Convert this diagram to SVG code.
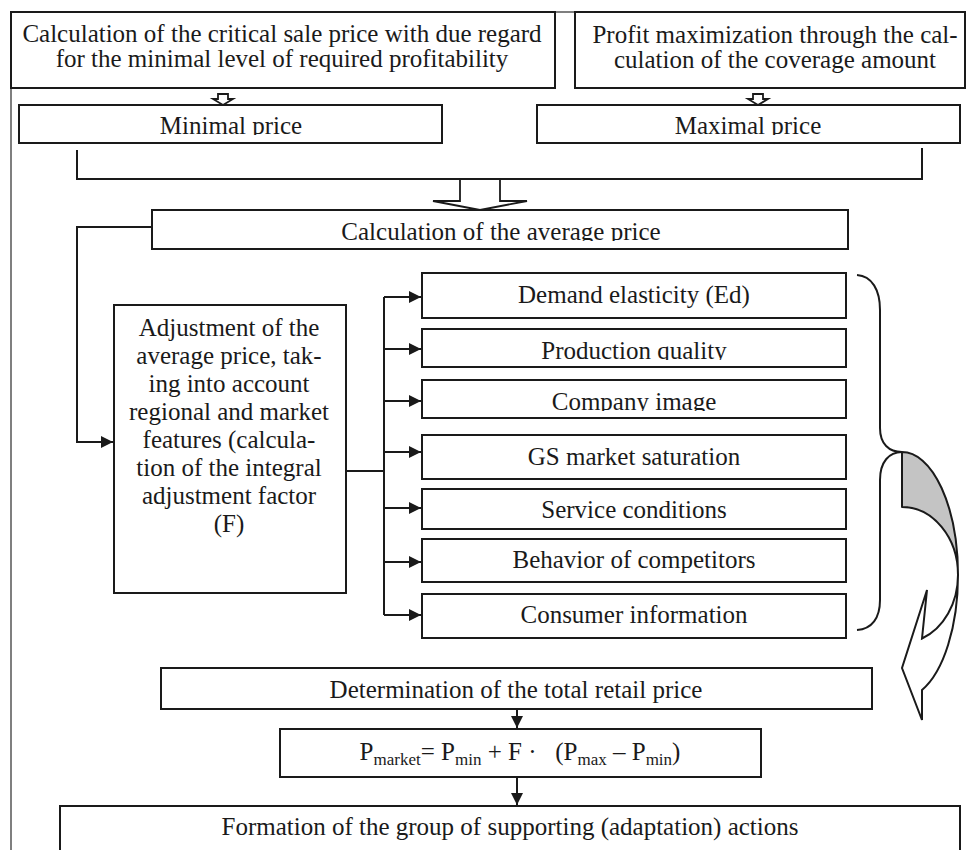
<svg xmlns="http://www.w3.org/2000/svg" width="966" height="850" viewBox="0 0 966 850">
  <style>
    .box { fill: #ffffff; stroke: #1a1a1a; stroke-width: 2; }
    .t { font-family: "Liberation Serif", "Times New Roman", serif; font-size: 25px; fill: #1a1a1a; text-anchor: middle; }
    .sub { font-size: 17px; }
    .ln { fill: none; stroke: #1a1a1a; stroke-width: 2; }
    .hollow { fill: #ffffff; stroke: #1a1a1a; stroke-width: 1.8; stroke-linejoin: miter; }
    .frame { fill: none; stroke: #555555; stroke-width: 1.5; }
  </style>
  <defs>
    <marker id="ah" viewBox="0 0 12 12" refX="12" refY="6" markerWidth="12" markerHeight="12" markerUnits="userSpaceOnUse" orient="auto">
      <path d="M0,0 L12,6 L0,12 z" fill="#1a1a1a"/>
    </marker>
    <!-- label clips: descenders are cut at the baseline -->
    <clipPath id="cMin" clipPathUnits="userSpaceOnUse"><rect x="19" y="105" width="423" height="30"/></clipPath>
    <clipPath id="cMax" clipPathUnits="userSpaceOnUse"><rect x="537" y="105" width="423" height="30"/></clipPath>
    <clipPath id="cAvg" clipPathUnits="userSpaceOnUse"><rect x="152" y="210" width="696" height="31"/></clipPath>
    <clipPath id="cQual" clipPathUnits="userSpaceOnUse"><rect x="422" y="329" width="424" height="31"/></clipPath>
    <clipPath id="cImg" clipPathUnits="userSpaceOnUse"><rect x="422" y="380" width="424" height="31"/></clipPath>
  </defs>

  <rect width="966" height="850" fill="#ffffff"/>

  <!-- outer frame -->
  <path class="frame" d="M11,850 V12 H966"/>

  <!-- connectors -->
  <g id="connectors">
    <!-- bracket collecting min / max price -->
    <path class="ln" d="M77,150 V179 H922 V148"/>
    <!-- small hollow arrows -->
    <polygon class="hollow" points="218,94 228,94 228,99 233,99 223,105 213,99 218,99"/>
    <polygon class="hollow" points="753,94 763,94 763,99 768,99 758,105 748,99 753,99"/>
    <!-- big hollow arrow -->
    <polygon class="hollow" points="460,179 500,179 500,201 527,201 480,210 433,201 460,201"/>
    <!-- average price to adjustment -->
    <path class="ln" d="M152,227 H77 V442 H113" marker-end="url(#ah)"/>
    <!-- adjustment to factors -->
    <path class="ln" d="M346,471 H384"/>
    <path class="ln" d="M384,297 V615"/>
    <path class="ln" d="M384,297 H421" marker-end="url(#ah)"/>
    <path class="ln" d="M384,349 H421" marker-end="url(#ah)"/>
    <path class="ln" d="M384,401 H421" marker-end="url(#ah)"/>
    <path class="ln" d="M384,452 H421" marker-end="url(#ah)"/>
    <path class="ln" d="M384,508 H421" marker-end="url(#ah)"/>
    <path class="ln" d="M384,562 H421" marker-end="url(#ah)"/>
    <path class="ln" d="M384,615 H421" marker-end="url(#ah)"/>
    <!-- bottom chain -->
    <path class="ln" d="M517,709 V728" marker-end="url(#ah)"/>
    <path class="ln" d="M517,777 V805" marker-end="url(#ah)"/>
    <!-- brace around the factors -->
    <path class="ln" d="M857,275 C872,276 880,290 880,310 L880,428 C880,444 889,452 902,452"/>
    <path class="ln" d="M902,452 C889,452 880,462 880,480 L880,600 C880,618 872,629 857,630"/>
    <!-- curved block arrow: shaded back and white body with head -->
    <path d="M902,452 A56,123 0 0 1 958,575 A56,68 0 0 0 902,507 Z" fill="#c4c4c4" stroke="#1a1a1a" stroke-width="2" stroke-linejoin="round"/>
    <path d="M958,575 A56,123 0 0 1 922,690 L922,720 L902,668 L927,590 L922,638.5 A56,68 0 0 0 958,575 Z" fill="#ffffff" stroke="#1a1a1a" stroke-width="2" stroke-linejoin="miter"/>
  </g>

  <g id="critical-price">
    <rect class="box" x="11" y="12" width="544" height="76"/>
    <text class="t" x="282" y="42">Calculation of the critical sale price with due regard</text>
    <text class="t" x="282" y="67">for the minimal level of required profitability</text>
  </g>

  <g id="profit-max">
    <rect class="box" x="575" y="12" width="390" height="76"/>
    <text class="t" x="775" y="43">Profit maximization through the cal-</text>
    <text class="t" x="775" y="68">culation of the coverage amount</text>
  </g>

  <g id="minimal-price">
    <rect class="box" x="19" y="105" width="423" height="38"/>
    <text class="t" x="231" y="134" clip-path="url(#cMin)">Minimal price</text>
  </g>

  <g id="maximal-price">
    <rect class="box" x="537" y="105" width="423" height="38"/>
    <text class="t" x="748" y="134" clip-path="url(#cMax)">Maximal price</text>
  </g>

  <g id="average-price">
    <rect class="box" x="152" y="210" width="696" height="39"/>
    <text class="t" x="501" y="240" clip-path="url(#cAvg)">Calculation of the average price</text>
  </g>

  <g id="adjustment">
    <rect class="box" x="114" y="305" width="232" height="288"/>
    <text class="t" x="229" y="336">Adjustment of the</text>
    <text class="t" x="229" y="364">average price, tak-</text>
    <text class="t" x="229" y="392">ing into account</text>
    <text class="t" x="229" y="420">regional and market</text>
    <text class="t" x="229" y="448">features (calcula-</text>
    <text class="t" x="229" y="476">tion of the integral</text>
    <text class="t" x="229" y="504">adjustment factor</text>
    <text class="t" x="229" y="532">(F)</text>
  </g>

  <g id="demand-elasticity">
    <rect class="box" x="422" y="273" width="424" height="45"/>
    <text class="t" x="634" y="303">Demand elasticity (Ed)</text>
  </g>
  <g id="production-quality">
    <rect class="box" x="422" y="329" width="424" height="38"/>
    <text class="t" x="634" y="359" clip-path="url(#cQual)">Production quality</text>
  </g>
  <g id="company-image">
    <rect class="box" x="422" y="380" width="424" height="38"/>
    <text class="t" x="634" y="410" clip-path="url(#cImg)">Company image</text>
  </g>
  <g id="market-saturation">
    <rect class="box" x="422" y="435" width="424" height="44"/>
    <text class="t" x="634" y="465">GS market saturation</text>
  </g>
  <g id="service-conditions">
    <rect class="box" x="422" y="489" width="424" height="40"/>
    <text class="t" x="634" y="518">Service conditions</text>
  </g>
  <g id="competitors">
    <rect class="box" x="422" y="539" width="424" height="43"/>
    <text class="t" x="634" y="568">Behavior of competitors</text>
  </g>
  <g id="consumer-information">
    <rect class="box" x="422" y="594" width="424" height="44"/>
    <text class="t" x="634" y="623">Consumer information</text>
  </g>

  <g id="retail-price">
    <rect class="box" x="161" y="668" width="711" height="41"/>
    <text class="t" x="516" y="698">Determination of the total retail price</text>
  </g>

  <g id="formula">
    <rect class="box" x="280" y="729" width="481" height="48"/>
    <text class="t" x="520" y="760">P<tspan class="sub" dy="5">market</tspan><tspan dy="-5">= P</tspan><tspan class="sub" dy="5">min</tspan><tspan dy="-5"> + F ·&#160;&#160;&#160;(P</tspan><tspan class="sub" dy="5">max</tspan><tspan dy="-5"> – P</tspan><tspan class="sub" dy="5">min</tspan><tspan dy="-5">)</tspan></text>
  </g>

  <g id="adaptation-actions">
    <rect class="box" x="60" y="806" width="900" height="60"/>
    <text class="t" x="510" y="835">Formation of the group of supporting (adaptation) actions</text>
  </g>
</svg>
